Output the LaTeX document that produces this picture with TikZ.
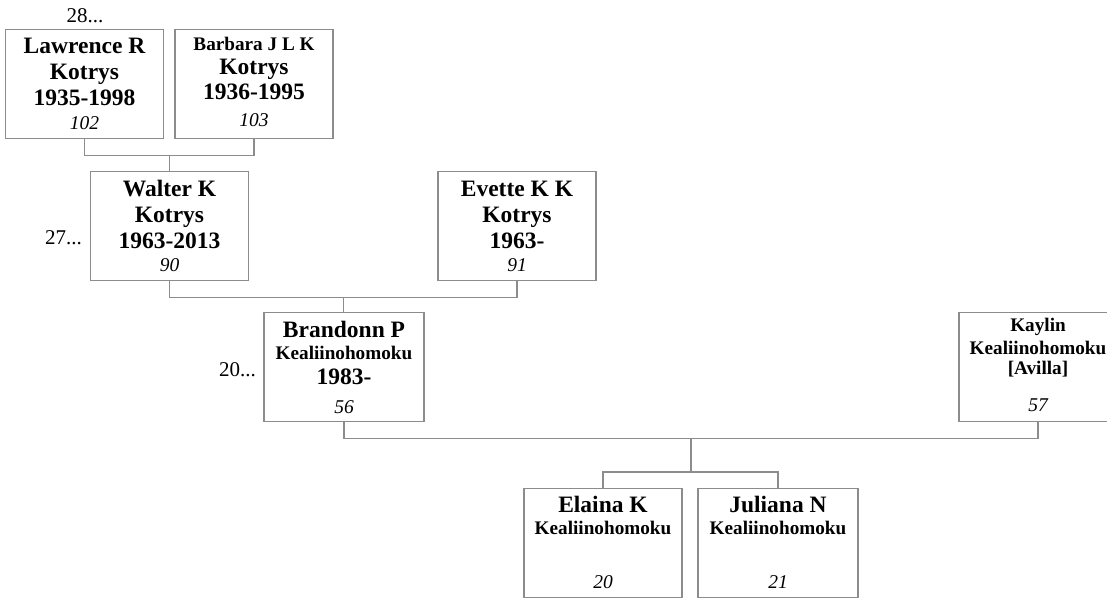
\documentclass[tikz,border=0pt]{standalone}
\usepackage{fontspec}
\setmainfont{Liberation Serif}
\usetikzlibrary{calc}
\definecolor{linegray}{RGB}{140,140,140}
\begin{document}
\begin{tikzpicture}[x=1pt,y=-1pt,
  box/.style={draw=linegray, line width=1.3pt, minimum width=158pt, minimum height=109pt, inner sep=0pt, anchor=north, fill=white},
  conn/.style={draw=linegray, line width=1.3pt},
  big/.style={font=\bfseries\fontsize{23.5}{26}\selectfont, anchor=base, inner sep=0pt},
  mid/.style={font=\bfseries\fontsize{19.2}{22}\selectfont, anchor=base, inner sep=0pt},
  num/.style={font=\itshape\fontsize{19.5}{22}\selectfont, anchor=base, inner sep=0pt},
  gen/.style={font=\fontsize{21}{24}\selectfont, inner sep=0pt}]
\clip (0,0) rectangle (1107,599);
\fill[white] (0,0) rectangle (1107,599);
% boxes
\node[box] (law) at (84.5,29) {};
\node[box] (bar) at (254,29) {};
\node[box] (wal) at (169.5,171) {};
\node[box] (eve) at (517,171) {};
\node[box, minimum width=160pt] (bra) at (344,312) {};
\node[box] (kay) at (1038,312) {};
\node[box] (ela) at (603,488) {};
\node[box, minimum width=160pt] (jul) at (778,488) {};
% generation labels
\node[gen, anchor=base] (g28) at (85,23) {28...};
\node[gen, anchor=base east] (g27) at (82,244) {27...};
\node[gen, anchor=base east] (g20) at (256,376) {20...};
% Lawrence
\node[big] (law1) at (84.5,54) {Lawrence R};
\node[big] (law2) at (84.5,80) {Kotrys};
\node[big] (law3) at (84.5,106) {1935-1998};
\node[num] (law4) at (84.5,129) {102};
% Barbara
\node[mid] (bar1) at (254,51) {Barbara J L K};
\node[big] (bar2) at (254,75) {Kotrys};
\node[big] (bar3) at (254,100) {1936-1995};
\node[num] (bar4) at (254,127) {103};
% Walter
\node[big] (wal1) at (169.5,196) {Walter K};
\node[big] (wal2) at (169.5,222) {Kotrys};
\node[big] (wal3) at (169.5,248) {1963-2013};
\node[num] (wal4) at (169.5,271) {90};
% Evette
\node[big] (eve1) at (517,196) {Evette K K};
\node[big] (eve2) at (517,222) {Kotrys};
\node[big] (eve3) at (517,248) {1963-};
\node[num] (eve4) at (517,271) {91};
% Brandonn
\node[big] (bra1) at (344,337) {Brandonn P};
\node[mid] (bra2) at (344,359) {Kealiinohomoku};
\node[big] (bra3) at (344,384) {1983-};
\node[num] (bra4) at (344,413) {56};
% Kaylin
\node[mid] (kay1) at (1038,331) {Kaylin};
\node[mid] (kay2) at (1038,354) {Kealiinohomoku};
\node[mid] (kay3) at (1038,374) {[Avilla]};
\node[num] (kay4) at (1038,411) {57};
% Elaina
\node[big] (ela1) at (603,512) {Elaina K};
\node[mid] (ela2) at (603,534) {Kealiinohomoku};
\node[num] (ela3) at (603,588) {20};
% Juliana
\node[big] (jul1) at (778,512) {Juliana N};
\node[mid] (jul2) at (778,534) {Kealiinohomoku};
\node[num] (jul3) at (778,588) {21};
% connectors
\draw[conn] (law.south) -- ++(0,16) -| (bar.south);
\coordinate (lbm) at ($(law.south)!0.5!(bar.south)+(0,16)$);
\draw[conn] (lbm) -- (lbm |- wal.north);
\draw[conn] (wal.south) -- ++(0,16) -| (eve.south);
\coordinate (wem) at ($(wal.south)!0.5!(eve.south)+(0,16)$);
\draw[conn] (wem) -- (wem |- bra.north);
\draw[conn] (bra.south) -- ++(0,16) -| (kay.south);
\coordinate (bkm) at ($(bra.south)!0.5!(kay.south)+(0,16)$);
\coordinate (sib) at ($(ela.north)!0.5!(jul.north)+(0,-16)$);
\draw[conn] (bkm) -- (bkm |- sib);
\draw[conn] (ela.north) -- (ela.north |- sib) -| (jul.north);
\end{tikzpicture}
\end{document}
